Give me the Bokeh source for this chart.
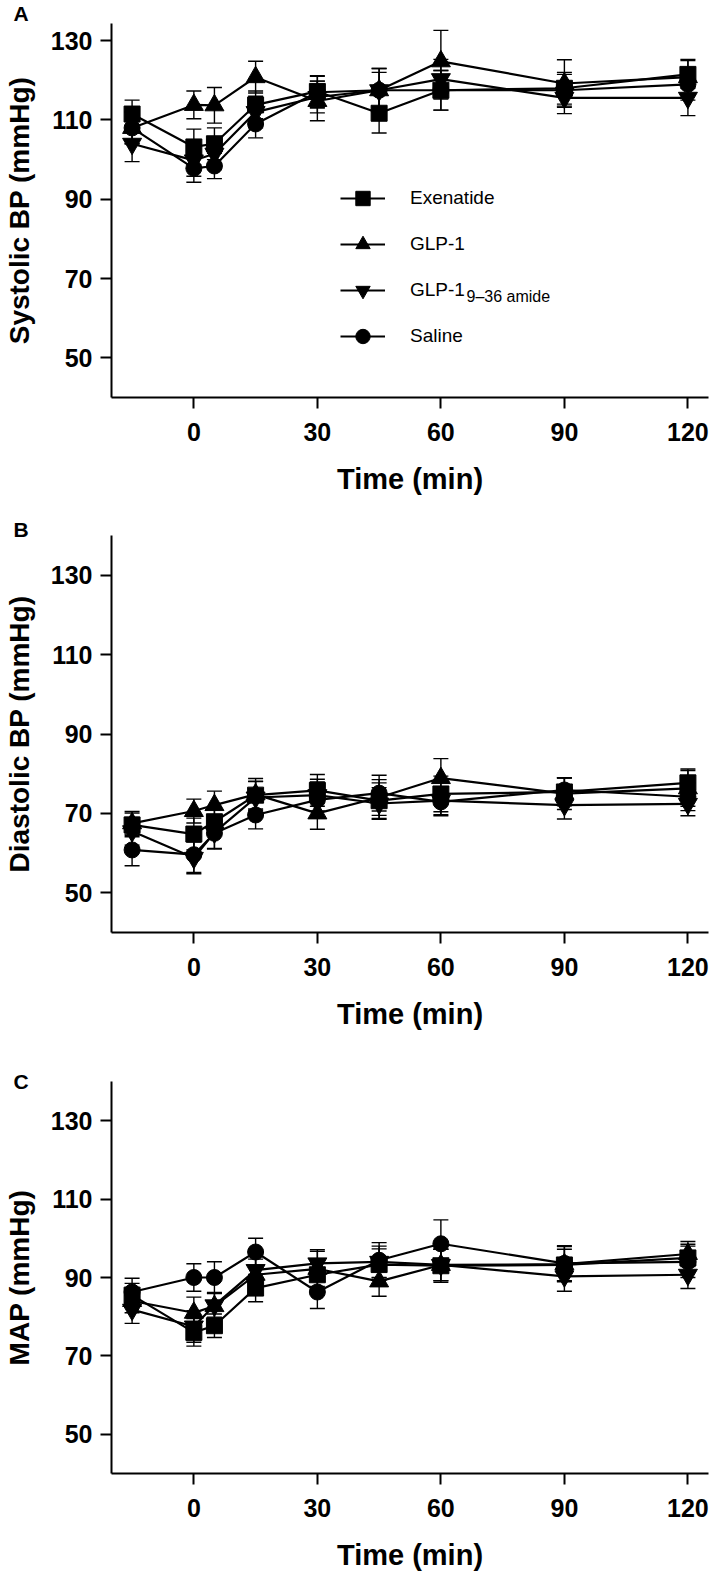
from bokeh.plotting import figure
from bokeh.layouts import column
from bokeh.models import (ColumnDataSource, Whisker, TeeHead, Legend, LegendItem,
                          Label, FixedTicker, Range1d, Title)
from bokeh.embed import file_html
from bokeh.resources import INLINE

# ---------------- data ----------------
time_min = [-15, 0, 5, 15, 30, 45, 60, 90, 120]
x_ticks = [0, 30, 60, 90, 120]
y_ticks = [50, 70, 90, 110, 130]
series_names = ["Exenatide", "GLP-1", "GLP-1 9–36 amide", "Saline"]
panel_letters = ["A", "B", "C"]
y_labels = ["Systolic BP (mmHg)", "Diastolic BP (mmHg)", "MAP (mmHg)"]
x_label = "Time (min)"

# Systolic BP (mean, SEM)
sbp_exenatide = [111.5, 103.2, 104.0, 113.8, 117.2, 111.7, 117.5, 118.0, 121.5]
sbp_exenatide_sem = [3.5, 4.5, 4.0, 3.5, 4.0, 5.0, 5.0, 4.0, 3.5]
sbp_glp1 = [108.0, 113.8, 113.7, 120.8, 114.8, 117.5, 124.8, 119.2, 120.8]
sbp_glp1_sem = [4.0, 3.5, 4.5, 4.0, 5.0, 5.5, 7.8, 6.0, 4.5]
sbp_glp1_936 = [104.0, 99.8, 101.5, 112.0, 115.8, 117.5, 120.3, 115.6, 115.6]
sbp_glp1_936_sem = [4.5, 4.0, 4.0, 4.0, 4.0, 4.5, 5.0, 4.0, 4.5]
sbp_saline = [108.0, 97.8, 98.4, 109.0, 117.0, 117.5, 117.5, 117.5, 119.0]
sbp_saline_sem = [4.0, 3.5, 3.2, 3.5, 4.0, 5.5, 5.0, 4.0, 4.0]

# Diastolic BP (mean, SEM)
dbp_exenatide = [67.1, 64.8, 67.9, 74.6, 75.8, 73.2, 74.9, 75.4, 77.7]
dbp_exenatide_sem = [3.0, 4.0, 3.5, 3.5, 4.0, 4.5, 4.5, 3.5, 3.5]
dbp_glp1 = [67.5, 70.6, 72.1, 74.8, 70.0, 74.0, 78.9, 75.0, 76.3]
dbp_glp1_sem = [3.0, 3.0, 3.5, 4.0, 4.0, 4.5, 4.9, 4.0, 4.5]
dbp_glp1_936 = [65.5, 58.8, 65.2, 74.0, 74.6, 72.5, 73.2, 72.1, 72.4]
dbp_glp1_936_sem = [3.5, 4.0, 4.0, 4.0, 4.0, 4.0, 3.5, 3.5, 3.0]
dbp_saline = [60.8, 59.6, 65.0, 69.6, 73.4, 75.1, 72.9, 75.9, 74.2]
dbp_saline_sem = [4.0, 4.5, 4.0, 3.5, 4.5, 4.5, 3.5, 3.0, 3.5]

# Mean arterial pressure (mean, SEM)
map_exenatide = [85.5, 76.0, 77.7, 87.3, 90.7, 93.3, 93.0, 93.2, 95.0]
map_exenatide_sem = [3.0, 3.5, 3.0, 3.5, 4.0, 4.0, 4.2, 4.0, 3.5]
map_glp1 = [84.0, 81.0, 82.7, 90.7, 92.2, 89.0, 93.2, 93.4, 96.0]
map_glp1_sem = [3.0, 4.0, 3.5, 4.0, 4.5, 3.8, 4.0, 4.5, 3.2]
map_glp1_936 = [81.8, 77.5, 82.9, 91.9, 93.6, 94.0, 93.2, 90.3, 90.7]
map_glp1_936_sem = [3.5, 4.0, 3.0, 3.5, 3.5, 4.0, 4.0, 3.8, 3.5]
map_saline = [86.3, 90.0, 90.0, 96.5, 86.3, 94.4, 98.6, 93.6, 94.0]
map_saline_sem = [3.5, 3.5, 4.0, 3.5, 4.2, 4.5, 6.1, 4.5, 4.0]

panels_means = [
    [sbp_exenatide, sbp_glp1, sbp_glp1_936, sbp_saline],
    [dbp_exenatide, dbp_glp1, dbp_glp1_936, dbp_saline],
    [map_exenatide, map_glp1, map_glp1_936, map_saline],
]
panels_sems = [
    [sbp_exenatide_sem, sbp_glp1_sem, sbp_glp1_936_sem, sbp_saline_sem],
    [dbp_exenatide_sem, dbp_glp1_sem, dbp_glp1_936_sem, dbp_saline_sem],
    [map_exenatide_sem, map_glp1_sem, map_glp1_936_sem, map_saline_sem],
]

# ---------------- style ----------------
FONT = "Liberation Sans"
markers = ["square", "triangle", "inverted_triangle", "circle"]
marker_sizes = [16, 19, 19, 16]

# per-panel layout: (height, top border, bottom border, y max, letter standoff)
layouts = [
    (511, 22, 114, 40 + 375 / 3.975, -2),
    (554, 24, 133, 140, -10),
    (508, 16, 95, 140, -22),
]


def make_panel(idx):
    height, top_b, bot_b, y_end, let_so = layouts[idx]
    p = figure(width=709, height=height,
               x_range=Range1d(-20, 125), y_range=Range1d(40, y_end),
               output_backend="svg", toolbar_location=None,
               min_border_left=111, min_border_right=1,
               min_border_top=top_b, min_border_bottom=bot_b,
               outline_line_color=None, background_fill_color="white")
    p.grid.visible = False

    for ax in (p.xaxis[0], p.yaxis[0]):
        ax.axis_line_width = 2
        ax.axis_line_color = "black"
        ax.major_tick_line_width = 2
        ax.major_tick_line_color = "black"
        ax.major_tick_out = 11
        ax.major_tick_in = 0
        ax.minor_tick_line_color = None
        ax.major_label_text_font = FONT
        ax.major_label_text_font_style = "bold"
        ax.major_label_text_font_size = "25px"
        ax.major_label_text_color = "black"
        ax.axis_label_text_font = FONT
        ax.axis_label_text_font_style = "bold"
        ax.axis_label_text_color = "black"
    p.xaxis.axis_label_text_font_size = "29px"
    p.yaxis.axis_label_text_font_size = "28px"

    p.xaxis.ticker = FixedTicker(ticks=x_ticks)
    p.yaxis.ticker = FixedTicker(ticks=y_ticks)
    p.xaxis.axis_label = x_label
    p.yaxis.axis_label = y_labels[idx]
    p.xaxis.major_label_standoff = 14
    p.xaxis.axis_label_standoff = 19
    p.yaxis.major_label_standoff = 8
    p.yaxis.axis_label_standoff = 13

    p.add_layout(Title(text=panel_letters[idx], align="left", offset=-98,
                       standoff=let_so, text_font=FONT, text_font_size="21px",
                       text_font_style="bold", text_color="black"), "above")

    means = panels_means[idx]
    sems = panels_sems[idx]
    items = []
    for k in range(4):
        lo = [m - s for m, s in zip(means[k], sems[k])]
        up = [m + s for m, s in zip(means[k], sems[k])]
        src = ColumnDataSource(dict(t=time_min, y=means[k], lo=lo, up=up))
        w = Whisker(base="t", upper="up", lower="lo", source=src, dimension="height",
                    line_color="black", line_width=1.4,
                    upper_head=TeeHead(size=15, line_color="black", line_width=1.4),
                    lower_head=TeeHead(size=15, line_color="black", line_width=1.4))
        p.add_layout(w)
        lr = p.line("t", "y", source=src, line_color="black", line_width=2.2)
        sr = p.scatter("t", "y", source=src, marker=markers[k], size=marker_sizes[k],
                       fill_color="black", line_color="black")
        lab = series_names[k] if k != 2 else "GLP-1"
        items.append(LegendItem(label=lab, renderers=[lr, sr]))

    if idx == 0:
        leg = Legend(items=items, location=(229, 43), padding=0, margin=0,
                     spacing=10, glyph_height=36, glyph_width=45, label_height=36,
                     label_standoff=25, border_line_alpha=0, background_fill_alpha=0,
                     label_text_font=FONT, label_text_font_size="19px",
                     label_text_color="black")
        p.add_layout(leg, "center")
        p.add_layout(Label(x=355, y=101, x_units="screen", y_units="screen",
                           text="9–36 amide", text_font=FONT, text_font_size="16px",
                           text_baseline="middle", text_color="black"))
    return p


plots = [make_panel(i) for i in range(3)]
layout = column(*plots, spacing=0)

with open("out.html", "w") as f:
    f.write(file_html(layout, INLINE))
